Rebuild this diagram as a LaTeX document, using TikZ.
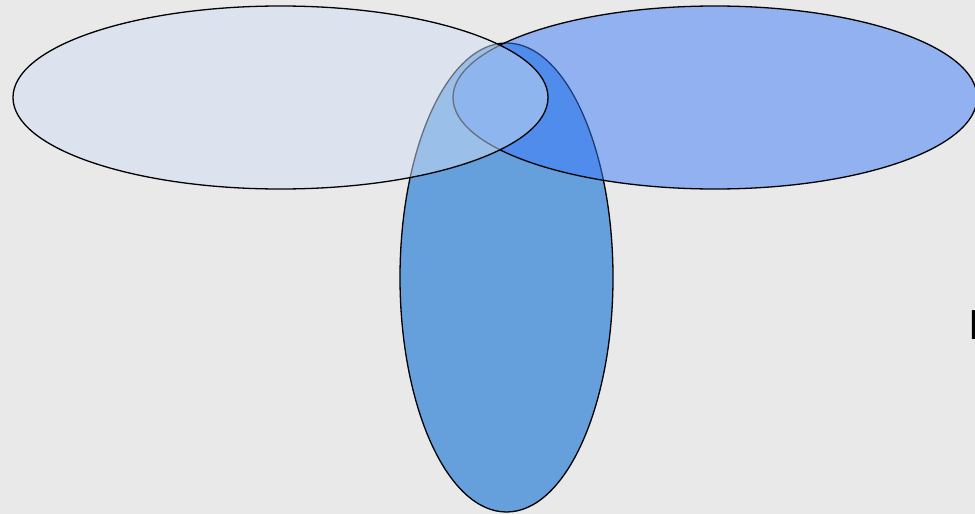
\documentclass[tikz,border=0pt]{standalone}
\usetikzlibrary{shapes.geometric}
\usepackage{fontspec}
\setmainfont{Liberation Sans}
\definecolor{bgcol}{RGB}{233,233,233}
\definecolor{leftfill}{RGB}{208,222,244}
\definecolor{rightfill}{RGB}{58,122,250}
\definecolor{vertfill}{RGB}{101,160,220}
\tikzset{
  venn/.style={ellipse, draw=black, line width=1.3pt, inner sep=0pt},
}
\begin{document}
\begin{tikzpicture}[x=1pt,y=-1pt]
\useasboundingbox (0,0) rectangle (975,514);
\clip (0,0) rectangle (975,514);
\fill[bgcol] (0,0) rectangle (975,514);
\node[venn, fill=vertfill, minimum width=213pt, minimum height=469pt] (vert) at (506.5,277.5) {};
\node[venn, fill=rightfill, fill opacity=0.5, draw opacity=1, minimum width=524pt, minimum height=183pt] (right) at (715,97.5) {};
\node[venn, fill=leftfill, fill opacity=0.5, draw opacity=1, minimum width=535pt, minimum height=183pt] (left) at (280.5,97.5) {};
\node[anchor=west, inner sep=0pt, font=\fontsize{42}{42}\selectfont] (txt) at (968.5,325) {I};
\end{tikzpicture}
\end{document}
